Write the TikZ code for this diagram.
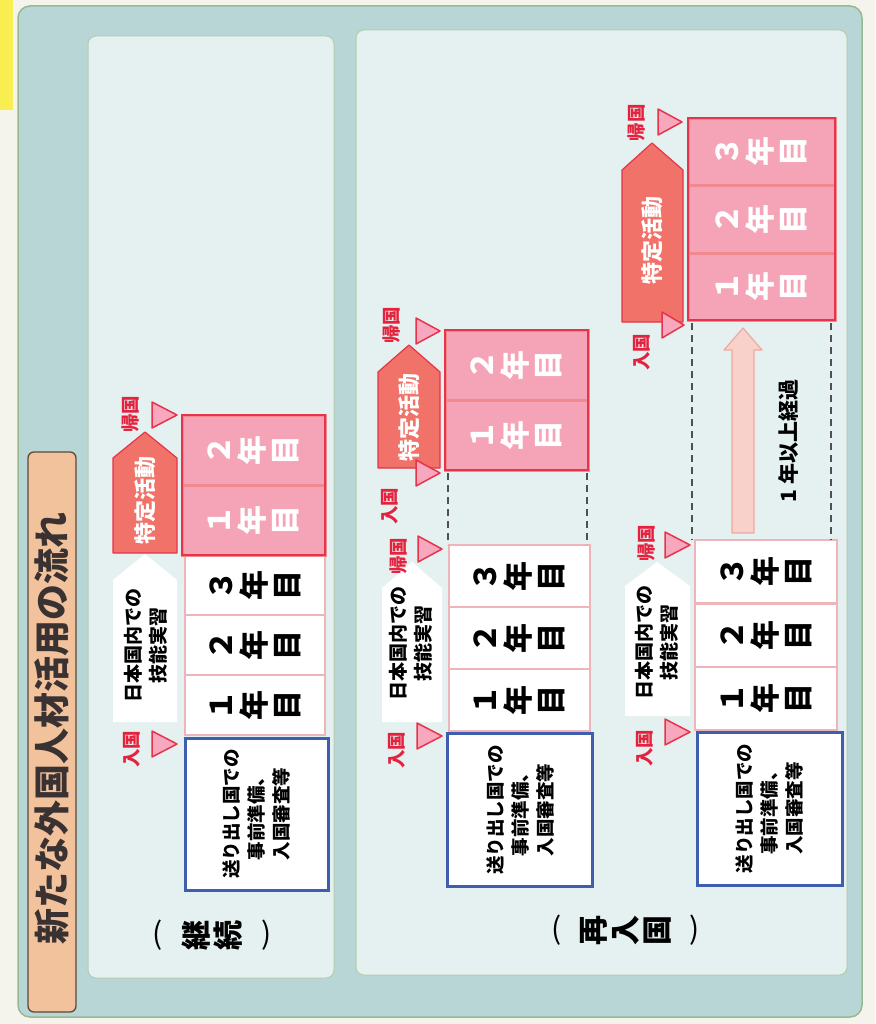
\documentclass[tikz,border=0pt]{standalone}
\usepackage{fontspec}
\newfontfamily\jp{Noto Sans CJK JP}
\definecolor{pagebg}{HTML}{F4F3EC}
\definecolor{hilite}{HTML}{F8EE50}
\definecolor{framefill}{HTML}{B8D6D6}
\definecolor{frameedge}{HTML}{98B890}
\definecolor{panelfill}{HTML}{E4F1F0}
\definecolor{paneledge}{HTML}{B4CCB0}
\definecolor{titlefill}{HTML}{F1C29C}
\definecolor{titleedge}{HTML}{5C4838}
\definecolor{titletext}{HTML}{3A3232}
\definecolor{bluebord}{HTML}{3F5FAE}
\definecolor{whitebord}{HTML}{EDB4BA}
\definecolor{pinkfill}{HTML}{F4A4B6}
\definecolor{pinksep}{HTML}{F08A8E}
\definecolor{redbord}{HTML}{E6344A}
\definecolor{tagred}{HTML}{F07268}
\definecolor{trifill}{HTML}{F7A8BE}
\definecolor{labelred}{HTML}{E4223E}
\definecolor{dashgray}{HTML}{505050}
\definecolor{arrowfill}{HTML}{F8D2CA}
\definecolor{arrowedge}{HTML}{F0A8A2}
\newcommand\mytri[3]{\path[tri] (#1,#3-13) -- (#2,#3) -- (#1,#3+13) -- cycle;}
\begin{document}
\begin{tikzpicture}[x=1pt,y=-1pt,
  yearw/.style={rotate=90, draw=whitebord, fill=white, line width=2, inner sep=0, align=center, font=\jp\bfseries\fontsize{30}{33}\selectfont},
  yearp/.style={rotate=90, draw=pinksep, fill=pinkfill, line width=3, inner sep=0, align=center, text=white, font=\jp\bfseries\fontsize{30}{33}\selectfont},
  bluebox/.style={rotate=90, draw=bluebord, fill=white, line width=3, inner sep=0, align=center, font=\jp\bfseries\fontsize{18.5}{25}\selectfont},
  tagtext/.style={rotate=90, align=center, inner sep=0, font=\jp\bfseries\fontsize{19}{25}\selectfont},
  acttext/.style={rotate=90, inner sep=0, text=white, font=\jp\bfseries\fontsize{22}{26}\selectfont},
  redlabel/.style={rotate=90, inner sep=0, text=labelred, font=\jp\bfseries\fontsize{18.5}{20}\selectfont},
  tri/.style={fill=trifill, draw=redbord, line width=1.5, line join=round},
  redtag/.style={fill=tagred, draw=redbord, line width=1.2, line join=round},
  whitetag/.style={fill=white},
  gframe/.style={draw=redbord, line width=2},
  dashline/.style={draw=dashgray, line width=2.5, dash pattern=on 7pt off 5pt},
  paren/.style={inner sep=0, font=\jp\fontsize{30}{30}\selectfont},
  kanji/.style={rotate=90, inner sep=0, align=center, font=\jp\bfseries\fontsize{30}{32}\selectfont},
  upArrow/.style={fill=arrowfill, draw=arrowedge, line width=1.2, line join=round}
]
\useasboundingbox (0,0) rectangle (875,1024);
\fill[pagebg] (0,0) rectangle (875,1024);
\fill[hilite] (0,0) rectangle (13,110);
% outer frame
\path[fill=framefill, draw=frameedge, line width=1.5, rounded corners=12] (18,6) rectangle (862,1017);
% title bar
\path[fill=titlefill, draw=titleedge, line width=1.3, rounded corners=6] (28,452) rectangle (76,1012);
\node[rotate=90, inner sep=0, text=titletext, font=\jp\bfseries\fontsize{36}{36}\selectfont] (title) at (52,728) {新たな外国人材活用の流れ};
% panels
\path[fill=panelfill, draw=paneledge, line width=1, rounded corners=8] (88,36) rectangle (334,978);
\path[fill=panelfill, draw=paneledge, line width=1, rounded corners=8] (356,30) rectangle (847,975);

% ===== Panel 1 (継続) =====
\node[bluebox, minimum width=152, minimum height=143] (b1) at (256.5,814) {送り出し国での\\事前準備、\\入国審査等};
\node[yearw, minimum width=60, minimum height=140] (w11) at (255,705) {１\\年\\目};
\node[yearw, minimum width=60, minimum height=140] (w12) at (255,645) {２\\年\\目};
\node[yearw, minimum width=60, minimum height=140] (w13) at (255,585) {３\\年\\目};
\node[yearp, minimum width=70, minimum height=143] (p11) at (253.5,520) {１\\年\\目};
\node[yearp, minimum width=70, minimum height=143] (p12) at (253.5,450) {２\\年\\目};
\draw[gframe] (182,415) rectangle (325,555);
\path[whitetag] (113,722) -- (113,580) -- (145,554) -- (177,580) -- (177,722) -- cycle;
\node[tagtext] (g1) at (146,645) {日本国内での\\技能実習};
\path[redtag] (113,553) -- (113,458) -- (145,432) -- (177,458) -- (177,553) -- cycle;
\node[acttext] (a1) at (145,500) {特定活動};
\mytri{152}{177}{744}
\mytri{152}{177}{415}
\node[redlabel] (in1) at (132,749) {入国};
\node[redlabel] (out1) at (131,414) {帰国};
\node[paren] (lp1) at (158,935) {(};
\node[kanji] (k1) at (212,935) {継\\続};
\node[paren] (rp1) at (267,935) {)};

% ===== Panel 2 row A =====
\node[bluebox, minimum width=153, minimum height=145] (bA) at (520,810) {送り出し国での\\事前準備、\\入国審査等};
\node[yearw, minimum width=62, minimum height=141] (wA1) at (519,700) {１\\年\\目};
\node[yearw, minimum width=62, minimum height=141] (wA2) at (519,638) {２\\年\\目};
\node[yearw, minimum width=62, minimum height=141] (wA3) at (519,576) {３\\年\\目};
\node[yearp, minimum width=70, minimum height=143] (pA1) at (516.5,435) {１\\年\\目};
\node[yearp, minimum width=70, minimum height=143] (pA2) at (516.5,365) {２\\年\\目};
\draw[gframe] (445,330) rectangle (588,470);
\draw[dashline] (448,473) -- (448,545);
\draw[dashline] (587,473) -- (587,545);
\path[whitetag] (382,722) -- (382,588) -- (412,562) -- (442,588) -- (442,722) -- cycle;
\node[tagtext] (gA) at (411,643) {日本国内での\\技能実習};
\path[redtag] (378,468) -- (378,372) -- (409,345) -- (440,372) -- (440,468) -- cycle;
\node[acttext] (aA) at (409,417) {特定活動};
\mytri{416}{440}{331}
\mytri{416}{440}{473}
\mytri{418}{442}{549}
\mytri{417}{442}{736}
\node[redlabel] (outA1) at (392,325) {帰国};
\node[redlabel] (inA2) at (390,506) {入国};
\node[redlabel] (outA2) at (399,556) {帰国};
\node[redlabel] (inA1) at (397,750) {入国};

% ===== Panel 2 row B =====
\node[bluebox, minimum width=153, minimum height=145] (bB) at (769.5,808.5) {送り出し国での\\事前準備、\\入国審査等};
\node[yearw, minimum width=63, minimum height=142] (wB1) at (766,698.5) {１\\年\\目};
\node[yearw, minimum width=63, minimum height=142] (wB2) at (766,635) {２\\年\\目};
\node[yearw, minimum width=63, minimum height=142] (wB3) at (766,571.5) {３\\年\\目};
\node[yearp, minimum width=67, minimum height=147] (pB1) at (761.5,286.5) {１\\年\\目};
\node[yearp, minimum width=67, minimum height=147] (pB2) at (761.5,219.5) {２\\年\\目};
\node[yearp, minimum width=67, minimum height=147] (pB3) at (761.5,152) {３\\年\\目};
\draw[gframe] (688,118) rectangle (835,320);
\draw[dashline] (692,323) -- (692,540);
\draw[dashline] (831,323) -- (831,540);
\path[upArrow] (732,533) -- (732,350) -- (724,350) -- (743,328) -- (762,350) -- (754,350) -- (754,533) -- cycle;
\node[rotate=90, inner sep=0, font=\jp\bfseries\fontsize{21}{24}\selectfont] (elapsed) at (788,441) {1 年以上経過};
\path[whitetag] (625,716) -- (625,586) -- (657,562) -- (690,586) -- (690,716) -- cycle;
\node[tagtext] (gB) at (657,642) {日本国内での\\技能実習};
\path[redtag] (622,322) -- (622,170) -- (652,143) -- (683,170) -- (683,322) -- cycle;
\node[acttext] (aB) at (652,240) {特定活動};
\mytri{658}{682}{122}
\mytri{662}{684}{325}
\mytri{665}{690}{545}
\mytri{665}{690}{732}
\node[redlabel] (outB1) at (636,123) {帰国};
\node[redlabel] (inB2) at (642,352) {入国};
\node[redlabel] (outB2) at (646,543) {帰国};
\node[redlabel] (inB1) at (645,748) {入国};
\node[paren] (lp2) at (557,930) {(};
\node[kanji] (k2) at (626,930) {再\\入\\国};
\node[paren] (rp2) at (695,930) {)};
\end{tikzpicture}
\end{document}
